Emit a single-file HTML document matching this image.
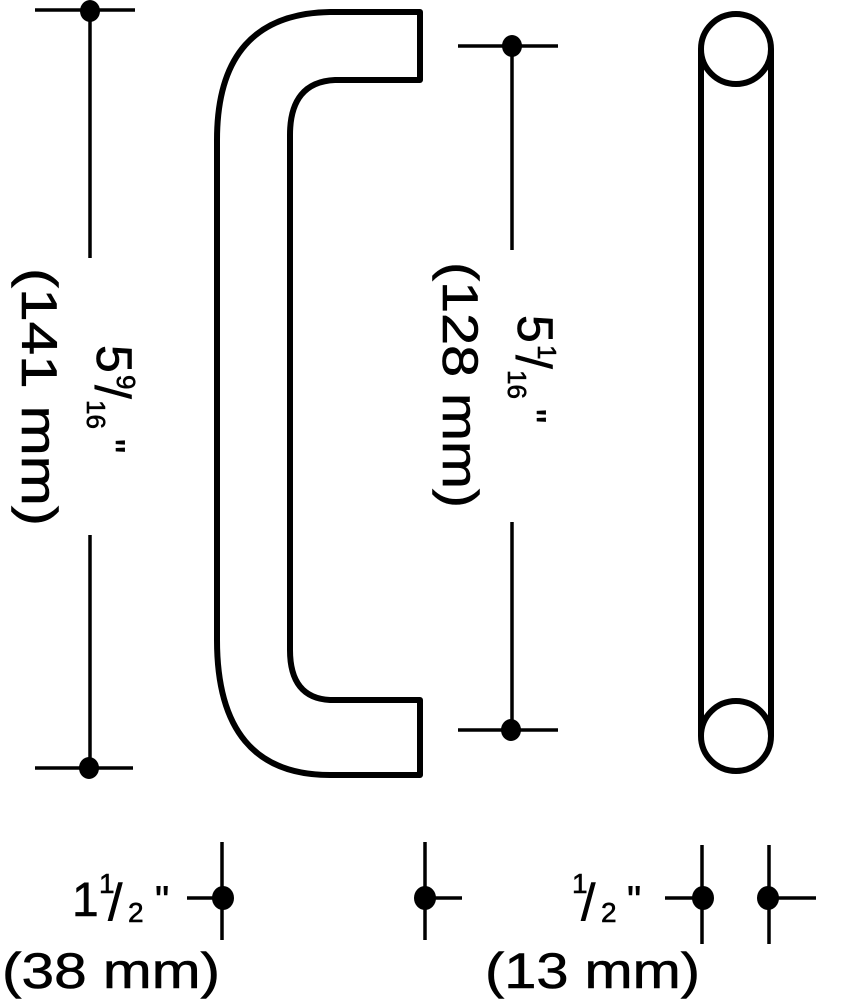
<!DOCTYPE html>
<html><head><meta charset="utf-8"><style>html,body{margin:0;padding:0;background:#fff}svg{display:block}text{stroke:#000;stroke-width:0.6}</style></head>
<body>
<svg width="862" height="1000" viewBox="0 0 862 1000" xmlns="http://www.w3.org/2000/svg" font-family="Liberation Sans, sans-serif" fill="#000">
<g stroke="#000" stroke-width="3.5" fill="none">
<line x1="90" y1="10" x2="90" y2="258"/><line x1="90" y1="535" x2="90" y2="768"/>
<line x1="35" y1="10" x2="135" y2="10"/><line x1="35" y1="768" x2="133" y2="768"/>
<line x1="512" y1="46" x2="512" y2="250"/><line x1="512" y1="522" x2="512" y2="730"/>
<line x1="458" y1="46" x2="558" y2="46"/><line x1="458" y1="730" x2="558" y2="730"/>
<line x1="222" y1="842" x2="222" y2="940"/><line x1="187" y1="898" x2="222" y2="898"/>
<line x1="425" y1="842" x2="425" y2="940"/><line x1="425" y1="898" x2="462" y2="898"/>
<line x1="702" y1="845" x2="702" y2="944"/><line x1="665" y1="898" x2="702" y2="898"/>
<line x1="769" y1="845" x2="769" y2="944"/><line x1="769" y1="898" x2="816" y2="898"/>
</g>
<g>
<ellipse cx="90" cy="11" rx="10" ry="11"/><ellipse cx="89" cy="768" rx="10" ry="11"/>
<ellipse cx="512" cy="46" rx="10" ry="11"/><ellipse cx="511" cy="730" rx="10" ry="11"/>
<ellipse cx="223" cy="898" rx="11" ry="12"/><ellipse cx="425" cy="898" rx="11" ry="12"/>
<ellipse cx="703" cy="898" rx="11" ry="12"/><ellipse cx="768" cy="898" rx="11" ry="12"/>
</g>
<path d="M420,12 L330,12 Q217,14 217,140 L217,640 Q217,775 330,775 L420,775 L420,700 L330,700 Q290,698 290,650 L290,135 Q290,82 335,80 L420,80 Z" stroke="#000" stroke-width="6" fill="none" stroke-linejoin="round"/>
<g stroke="#000" stroke-width="6" fill="none">
<circle cx="736" cy="49" r="35"/><circle cx="736" cy="736" r="35"/>
<line x1="701" y1="49" x2="701" y2="736"/><line x1="771" y1="49" x2="771" y2="736"/>
</g>
<g transform="translate(22,268) rotate(90)">
<text x="0" y="0" font-size="50" textLength="258" lengthAdjust="spacingAndGlyphs">(141 mm)</text>
</g>
<g transform="translate(97,345) rotate(90)">
<text x="0" y="0" font-size="50">5</text>
<text x="30" y="-20" font-size="26">9</text>
<text x="40" y="2" font-size="50">/</text>
<text x="55" y="10" font-size="26">16</text>
<text x="94" y="0" font-size="40">"</text>
</g>
<g transform="translate(443,262) rotate(90)">
<text x="0" y="0" font-size="50" textLength="246" lengthAdjust="spacingAndGlyphs">(128 mm)</text>
</g>
<g transform="translate(518,315) rotate(90)">
<text x="0" y="0" font-size="50">5</text>
<text x="30" y="-20" font-size="26">1</text>
<text x="40" y="2" font-size="50">/</text>
<text x="55" y="10" font-size="26">16</text>
<text x="94" y="0" font-size="40">"</text>
</g>
<text x="72" y="916" font-size="48">1</text>
<text x="99" y="893" font-size="28">1</text>
<text x="108" y="920" font-size="52">/</text>
<text x="128" y="922" font-size="28">2</text>
<text x="155" y="914" font-size="40">"</text>
<text x="2" y="988" font-size="50" textLength="218" lengthAdjust="spacingAndGlyphs">(38 mm)</text>
<text x="572" y="893" font-size="28">1</text>
<text x="581" y="920" font-size="52">/</text>
<text x="601" y="922" font-size="28">2</text>
<text x="627" y="914" font-size="40">"</text>
<text x="485" y="988" font-size="50" textLength="215" lengthAdjust="spacingAndGlyphs">(13 mm)</text>
</svg>
</body></html>
